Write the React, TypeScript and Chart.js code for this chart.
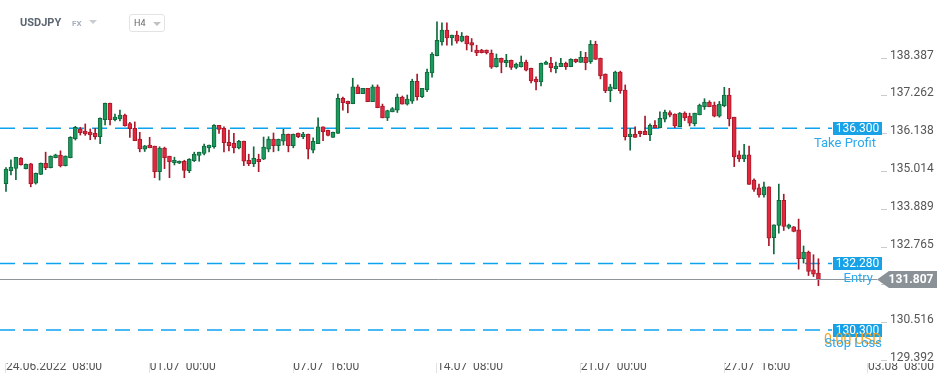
import React, { useEffect, useRef } from "react";
import { Chart, registerables } from "chart.js";
Chart.register(...registerables);

// ---- data (USDJPY H4) ----
const opens = [
  134.65, 135.04, 135.11, 135.41, 135.10, 135.24, 134.67, 134.93, 135.26, 135.13,
  135.43, 135.50, 135.19, 135.43, 135.99, 136.28, 136.22, 136.19, 136.15, 136.05,
  136.56, 137.04, 136.56, 136.58, 136.69, 136.44, 136.30, 135.98, 135.68, 135.80,
  135.77, 135.01, 135.71, 135.47, 135.28, 135.26, 135.32, 135.04, 135.34, 135.49,
  135.55, 135.72, 135.75, 136.39, 136.30, 135.88, 135.85, 135.72, 135.91, 135.35,
  135.25, 135.38, 135.38, 135.68, 135.98, 135.78, 135.92, 136.12, 135.78, 136.15,
  136.05, 136.12, 135.65, 135.84, 136.34, 136.24, 136.03, 136.15, 137.19, 137.10,
  137.03, 137.53, 137.33, 137.49, 137.09, 137.53, 136.96, 136.61, 136.79, 136.84,
  137.23, 137.02, 137.11, 137.70, 137.24, 137.45, 137.95, 138.46, 138.87, 139.22,
  138.99, 139.07, 138.89, 139.04, 138.85, 138.63, 138.63, 138.63, 138.53, 138.13,
  138.38, 138.25, 138.32, 138.11, 138.13, 138.27, 138.08, 137.76, 137.68, 138.20,
  138.23, 138.07, 138.13, 138.23, 138.13, 138.35, 138.26, 138.41, 138.28, 138.80,
  138.38, 137.91, 137.42, 137.48, 137.97, 137.44, 136.05, 136.13, 136.21, 136.21,
  136.11, 136.39, 136.31, 136.57, 136.77, 136.72, 136.35, 136.75, 136.66, 136.44,
  136.70, 136.94, 137.07, 136.99, 136.66, 136.97, 137.29, 136.63, 135.51, 135.39,
  135.51, 134.76, 134.53, 134.32, 134.56, 133.05, 133.41, 134.16, 133.35, 133.37,
  133.28, 132.42, 132.62, 132.09, 131.99,
];
const highs = [
  135.13, 135.36, 135.44, 135.43, 135.24, 135.26, 134.97, 135.27, 135.59, 135.48,
  135.53, 135.63, 135.48, 136.05, 136.36, 136.33, 136.43, 136.28, 136.30, 136.61,
  137.05, 137.05, 136.72, 136.84, 136.72, 136.48, 136.49, 136.18, 135.79, 136.03,
  135.77, 135.75, 135.74, 135.47, 135.44, 135.33, 135.35, 135.40, 135.59, 135.59,
  135.83, 135.80, 136.41, 136.39, 136.34, 136.25, 136.15, 135.94, 135.92, 135.53,
  135.75, 135.53, 136.04, 136.05, 136.16, 135.98, 136.27, 136.13, 136.13, 136.16,
  136.18, 136.13, 136.02, 136.61, 136.34, 136.25, 136.19, 137.32, 137.23, 137.11,
  137.79, 137.59, 137.49, 137.49, 137.59, 137.59, 137.02, 136.84, 136.92, 137.32,
  137.26, 137.29, 137.76, 137.91, 137.49, 138.06, 138.55, 139.47, 139.44, 139.44,
  139.07, 139.19, 139.15, 139.05, 138.97, 138.77, 138.65, 138.63, 138.63, 138.51,
  138.39, 138.50, 138.33, 138.24, 138.45, 138.33, 138.09, 137.83, 138.24, 138.30,
  138.41, 138.27, 138.38, 138.27, 138.37, 138.36, 138.59, 138.56, 138.91, 138.89,
  138.39, 137.92, 137.61, 138.00, 138.00, 137.59, 136.29, 136.34, 136.22, 136.66,
  136.43, 136.53, 136.79, 136.84, 136.82, 136.73, 136.77, 136.79, 136.75, 136.75,
  137.02, 137.18, 137.12, 137.08, 137.10, 137.52, 137.49, 136.63, 135.63, 135.82,
  135.77, 134.80, 134.64, 134.70, 134.56, 133.43, 134.64, 134.34, 133.45, 133.38,
  133.60, 132.80, 132.65, 132.54, 132.42,
];
const lows = [
  134.42, 134.91, 134.77, 135.20, 135.09, 134.56, 134.64, 134.92, 135.07, 135.12,
  135.42, 135.15, 135.18, 135.42, 135.95, 136.10, 136.09, 135.96, 135.98, 135.84,
  136.40, 136.40, 136.52, 136.52, 136.36, 136.03, 135.93, 135.60, 135.61, 135.72,
  134.83, 134.76, 135.10, 134.83, 135.21, 135.25, 134.83, 134.98, 135.31, 135.32,
  135.51, 135.60, 135.71, 136.15, 135.60, 135.63, 135.57, 135.69, 135.19, 135.19,
  135.16, 135.01, 135.37, 135.60, 135.60, 135.63, 135.80, 135.60, 135.72, 136.02,
  135.99, 135.39, 135.57, 135.84, 135.93, 136.07, 136.03, 136.15, 136.84, 136.76,
  137.03, 137.33, 137.33, 137.09, 137.09, 136.91, 136.61, 136.53, 136.79, 136.77,
  137.02, 136.99, 137.04, 137.14, 137.21, 137.39, 137.82, 138.45, 138.77, 138.77,
  138.77, 138.83, 138.87, 138.63, 138.58, 138.46, 138.54, 138.51, 138.08, 138.12,
  137.95, 138.13, 138.05, 138.07, 138.12, 138.01, 137.65, 137.44, 137.56, 138.20,
  137.98, 137.95, 138.13, 138.05, 138.13, 138.25, 138.26, 138.04, 138.23, 138.35,
  137.77, 137.36, 137.09, 137.47, 137.34, 135.95, 135.65, 136.03, 136.05, 136.11,
  135.93, 136.31, 136.31, 136.49, 136.64, 136.32, 136.35, 136.53, 136.37, 136.37,
  136.70, 136.86, 136.94, 136.64, 136.63, 136.94, 136.37, 135.16, 135.31, 135.31,
  134.63, 134.42, 134.25, 134.25, 132.81, 132.56, 133.18, 133.26, 133.31, 133.22,
  132.11, 132.29, 131.92, 131.89, 131.62,
];
const closes = [
  135.09, 135.15, 135.44, 135.22, 135.23, 134.65, 134.96, 135.26, 135.13, 135.47,
  135.51, 135.18, 135.47, 136.03, 136.33, 136.17, 136.13, 136.10, 136.05, 136.60,
  137.04, 136.56, 136.63, 136.69, 136.38, 136.29, 135.93, 135.69, 135.78, 135.72,
  135.01, 135.71, 135.43, 135.31, 135.35, 135.32, 135.05, 135.38, 135.53, 135.59,
  135.77, 135.80, 136.39, 136.27, 135.87, 135.78, 135.72, 135.91, 135.32, 135.25,
  135.41, 135.31, 135.74, 135.98, 135.78, 135.97, 136.13, 135.78, 136.12, 136.05,
  136.13, 135.68, 135.91, 136.34, 136.20, 136.09, 136.18, 137.19, 137.06, 137.03,
  137.53, 137.33, 137.49, 137.09, 137.53, 136.91, 136.61, 136.83, 136.89, 137.23,
  137.02, 137.17, 137.70, 137.24, 137.49, 137.97, 138.51, 138.92, 139.22, 138.99,
  139.07, 138.89, 139.04, 138.81, 138.77, 138.54, 138.55, 138.55, 138.12, 138.38,
  138.26, 138.32, 138.11, 138.21, 138.27, 138.03, 137.71, 137.68, 138.23, 138.27,
  138.10, 138.15, 138.23, 138.13, 138.35, 138.28, 138.41, 138.25, 138.80, 138.35,
  137.86, 137.42, 137.53, 137.97, 137.42, 136.05, 136.13, 136.03, 136.14, 136.11,
  136.39, 136.31, 136.60, 136.78, 136.69, 136.37, 136.75, 136.61, 136.45, 136.75,
  136.99, 137.08, 136.94, 136.66, 137.02, 137.29, 136.58, 135.45, 135.39, 135.51,
  134.63, 134.48, 134.32, 134.56, 133.03, 133.43, 134.16, 133.38, 133.43, 133.23,
  132.42, 132.62, 132.04, 131.96, 131.807,
];

const xTickIndex = [0, 29, 58, 87, 116, 145, 174];
const xTickLabels = [
  "24.06.2022  08:00",
  "01.07  00:00",
  "07.07  16:00",
  "14.07  08:00",
  "21.07  00:00",
  "27.07  16:00",
  "03.08  08:00",
];
const yTickValues = [129.392, 130.516, 131.64, 132.765, 133.889, 135.014, 136.138, 137.262, 138.387];

const levelNames = ["Take Profit", "Entry", "Stop Loss"];
const levelPrices = [136.3, 132.28, 130.3];
const lastPrice = 131.807;
const stopLossResult = "0.00 USD";

// ---- styles ----
const GREEN = "#1c9a5e";
const GREEN_EDGE = "#10693d";
const RED = "#e2283c";
const RED_EDGE = "#a9182b";
const BLUE = "#17a2e8";
const BLUE_TEXT = "#2ea9ec";
const LINE_BLUE = "#0ca2ee";
const GRAY_LABEL = "#8b9297";
const FONT = "Roboto, 'Noto Sans', sans-serif";

const levelTextRight = [876, 873, 882];
const levelTextDy = [15, 15, 13];

function drawDashed(ctx: CanvasRenderingContext2D, y: number) {
  ctx.save();
  ctx.strokeStyle = LINE_BLUE;
  ctx.lineWidth = 1.4;
  ctx.setLineDash([15, 8]);
  ctx.beginPath();
  ctx.moveTo(0, y);
  ctx.lineTo(832, y);
  ctx.stroke();
  ctx.restore();
}

const levelsPlugin = {
  id: "levels",
  beforeDatasetsDraw(chart: any) {
    const { ctx } = chart;
    const ys = chart.scales.y;
    levelPrices.forEach((p) => drawDashed(ctx, ys.getPixelForValue(p)));
  },
  afterDatasetsDraw(chart: any) {
    const { ctx } = chart;
    const ys = chart.scales.y;
    ctx.save();
    const ly = Math.round(ys.getPixelForValue(lastPrice)) + 0.5;
    ctx.setLineDash([]);
    ctx.strokeStyle = "#8e969b";
    ctx.lineWidth = 1;
    ctx.beginPath();
    ctx.moveTo(0, ly);
    ctx.lineTo(877, ly);
    ctx.stroke();

    levelPrices.forEach((p, i) => {
      const y = Math.round(ys.getPixelForValue(p)) + 0.5;
      ctx.fillStyle = BLUE;
      ctx.fillRect(833, y - 6.5, 49, 13);
      ctx.fillStyle = "#ffffff";
      ctx.font = `12px ${FONT}`;
      ctx.textAlign = "center";
      ctx.textBaseline = "middle";
      ctx.fillText(p.toFixed(3), 857.5, y + 0.5);
      if (i === 2) {
        ctx.fillStyle = "#f5a020";
        ctx.font = `14px ${FONT}`;
        ctx.textAlign = "left";
        ctx.fillText(stopLossResult, 824, y + 10);
      }
      ctx.fillStyle = BLUE_TEXT;
      ctx.font = `13px ${FONT}`;
      ctx.textAlign = "right";
      ctx.fillText(levelNames[i], levelTextRight[i], y + levelTextDy[i]);
    });

    ctx.fillStyle = GRAY_LABEL;
    ctx.beginPath();
    ctx.moveTo(877, ly);
    ctx.lineTo(889, ly - 8.5);
    ctx.lineTo(937, ly - 8.5);
    ctx.lineTo(937, ly + 8.5);
    ctx.lineTo(889, ly + 8.5);
    ctx.closePath();
    ctx.fill();
    ctx.fillStyle = "#ffffff";
    ctx.font = `bold 12px ${FONT}`;
    ctx.textAlign = "center";
    ctx.textBaseline = "middle";
    ctx.fillText(lastPrice.toFixed(3), 911, ly + 0.5);
    ctx.restore();
  },
};

export default function App() {
  const ref = useRef<HTMLCanvasElement>(null);
  useEffect(() => {
    const canvas = ref.current;
    if (!canvas) return;
    const isUp = (i: number) => closes[i] >= opens[i];
    const xMin = -1.211;
    const xMax = 176.63;
    const yMax = 140.116;
    const yMin = 129.319;
    const chart = new Chart(canvas, {
      type: "bar",
      data: {
        datasets: [
          {
            label: "body",
            data: opens.map((o, i) => ({ x: i, y: [Math.min(o, closes[i]), Math.max(o, closes[i])] })) as any,
            backgroundColor: (c: any) => (isUp(c.dataIndex) ? GREEN : RED),
            borderColor: (c: any) => (isUp(c.dataIndex) ? GREEN_EDGE : RED_EDGE),
            borderWidth: 1,
            borderSkipped: false,
            barThickness: 4,
            minBarLength: 2,
            grouped: false,
            order: 0,
          } as any,
          {
            label: "wick",
            data: lows.map((l, i) => ({ x: i, y: [l, highs[i]] })) as any,
            backgroundColor: (c: any) => (isUp(c.dataIndex) ? GREEN_EDGE : RED_EDGE),
            borderWidth: 0,
            barThickness: 1,
            grouped: false,
            order: 1,
          } as any,
        ],
      },
      options: {
        responsive: false,
        animation: false,
        devicePixelRatio: 1,
        events: [],
        layout: { padding: 0 },
        plugins: { legend: { display: false }, tooltip: { enabled: false }, title: { display: false } },
        scales: {
          x: {
            type: "linear",
            position: "bottom",
            min: xMin,
            max: xMax,
            offset: false,
            grid: { display: true, drawOnChartArea: false, drawTicks: true, tickLength: 10, color: "#e2e2e2", offset: false },
            border: { display: false },
            afterBuildTicks: (s: any) => {
              s.ticks = xTickIndex.map((v) => ({ value: v }));
            },
            afterFit: (s: any) => {
              s.height = 22;
              s.paddingLeft = 0;
              s.paddingRight = 0;
              s.paddingTop = 0;
              s.paddingBottom = 0;
            },
            ticks: {
              autoSkip: false,
              maxRotation: 0,
              minRotation: 0,
              align: "start",
              padding: -13.2,
              color: "#555555",
              font: { family: FONT, size: 12 },
              callback: (v: any) => {
                const k = xTickIndex.indexOf(Number(v));
                return k >= 0 ? xTickLabels[k] : "";
              },
            },
          } as any,
          y: {
            type: "linear",
            position: "right",
            min: yMin,
            max: yMax,
            grid: { display: true, drawOnChartArea: false, drawTicks: true, tickLength: 6, color: "#cccccc" },
            border: { display: false },
            afterBuildTicks: (s: any) => {
              s.ticks = yTickValues.map((v) => ({ value: v }));
            },
            afterFit: (s: any) => {
              s.width = 68;
              s.paddingTop = 0;
              s.paddingBottom = 0;
              s.paddingLeft = 0;
              s.paddingRight = 0;
            },
            ticks: {
              padding: 3,
              labelOffset: -2.5,
              color: "#555555",
              font: { family: FONT, size: 12 },
              callback: (v: any) => Number(v).toFixed(3),
            },
          } as any,
        },
      },
      plugins: [levelsPlugin],
    } as any);
    return () => chart.destroy();
  }, []);

  return (
    <div style={{ position: "absolute", left: 0, top: 0, width: 949, height: 385, fontFamily: FONT, background: "#fff" }}>
      <canvas ref={ref} width={949} height={385} style={{ display: "block", width: 949, height: 385 }} />
      <div style={{ position: "absolute", left: 20, top: 16, fontSize: 11, lineHeight: "13px", fontWeight: 700, color: "#5b6671" }}>
        USDJPY
      </div>
      <div style={{ position: "absolute", left: 72, top: 19, fontSize: 8, lineHeight: "10px", fontWeight: 700, color: "#a3afbb" }}>
        FX
      </div>
      <div
        style={{
          position: "absolute",
          left: 89,
          top: 20,
          width: 0,
          height: 0,
          borderLeft: "4px solid transparent",
          borderRight: "4px solid transparent",
          borderTop: "4px solid #c7ccd1",
        }}
      />
      <div
        style={{
          position: "absolute",
          left: 129,
          top: 14,
          width: 36,
          height: 18,
          border: "1px solid #e3e3e3",
          borderRadius: 3,
          boxSizing: "border-box",
        }}
      />
      <div style={{ position: "absolute", left: 134, top: 18, fontSize: 9, lineHeight: "11px", color: "#666666" }}>H4</div>
      <div
        style={{
          position: "absolute",
          left: 152.5,
          top: 22,
          width: 0,
          height: 0,
          borderLeft: "4px solid transparent",
          borderRight: "4px solid transparent",
          borderTop: "4px solid #c2c2c2",
        }}
      />
    </div>
  );
}
